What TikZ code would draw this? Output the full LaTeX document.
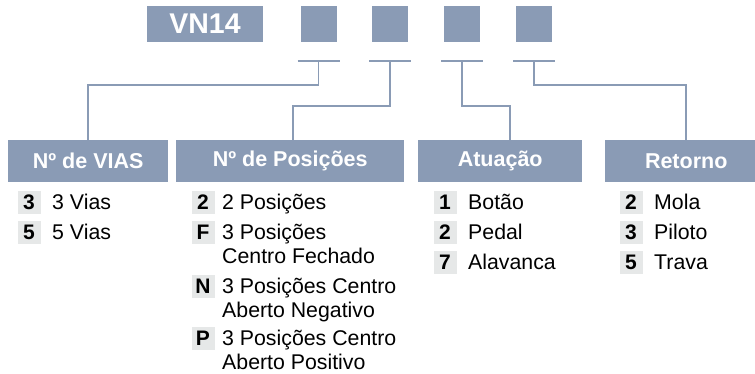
\documentclass[tikz,border=0pt]{standalone}
\usepackage{fontspec}
\setmainfont{Liberation Sans}
\usetikzlibrary{positioning,calc}
\definecolor{azulado}{HTML}{8A9BB5}
\definecolor{cinzaclaro}{HTML}{E6E8E8}

\begin{document}
\begin{tikzpicture}[x=1pt, y=-1pt,
  cabec/.style={fill=azulado, text=white, font=\fontsize{21.5}{24}\selectfont\bfseries,
                minimum height=42pt, inner sep=0pt, anchor=north west},
  quad/.style={fill=azulado, minimum width=36pt, minimum height=36pt, inner sep=0pt},
  selo/.style={fill=cinzaclaro, minimum width=23pt, minimum height=23pt, inner sep=0pt,
               font=\fontsize{21}{24}\selectfont\bfseries},
  item/.style={anchor=base west, inner sep=0pt, align=left,
               font=\fontsize{21.3}{24}\selectfont},
  fio/.style={draw=azulado, line width=1.7pt}]

  \useasboundingbox (0,0) rectangle (755,373);
  \clip (0,0) rectangle (755,373);

  % codigo
  \node[quad, minimum width=116pt, text=white, font=\fontsize{28.5}{30}\selectfont\bfseries] (cod) at (205,24) {VN14};
  \node[quad] (q1) at (318.5,24) {};
  \node[quad] (q2) at (390,24) {};
  \node[quad] (q3) at (462,24) {};
  \node[quad] (q4) at (534,24) {};

  \coordinate (t1) at ($(q1.south)+(0,19)$);
  \coordinate (t2) at ($(q2.south)+(0,19)$);
  \coordinate (t3) at ($(q3.south)+(0,19)$);
  \coordinate (t4) at ($(q4.south)+(0,19)$);

  % cabecalhos
  \node[cabec, minimum width=160pt] (vias) at (8,140) {Nº de VIAS};
  \node[cabec, minimum width=228pt] (pos) at (176,140) {Nº de Posições};
  \node[cabec, minimum width=164pt] (atu) at (418,140) {Atuação};
  \node[cabec, minimum width=162pt] (ret) at (605,140) {Retorno};

  \draw[fio] ([xshift=-21pt]t1) -- ([xshift=21pt]t1);
  \draw[fio] ([xshift=-21pt]t2) -- ([xshift=21pt]t2);
  \draw[fio] ([xshift=-21pt]t3) -- ([xshift=21pt]t3);
  \draw[fio] ([xshift=-21pt]t4) -- ([xshift=21pt]t4);
  \draw[fio] (t1) -- ++(0,24) -| (vias.north);
  \draw[fio] (t2) -- ++(0,45) -| ([xshift=3pt]pos.north);
  \draw[fio] (t3) -- ++(0,45) -| ([xshift=10pt]atu.north);
  \draw[fio] (t4) -- ++(0,24) -| (ret.north);

  % vias
  \node[selo] (v3) at (29,202) {3};
  \node[item] (v3t) at (52,209.5) {3 Vias};
  \node[selo] (v5) at (29,232) {5};
  \node[item] (v5t) at (52,239.5) {5 Vias};

  % posicoes (base = ultima linha)
  \node[selo] (p2) at (203,202) {2};
  \node[item] (p2t) at (222,209.5) {2 Posições};
  \node[selo] (pF) at (203,232) {F};
  \node[item] (pFt) at (222,263.5) {3 Posições\\Centro Fechado};
  \node[selo] (pN) at (203,286) {N};
  \node[item] (pNt) at (222,317.5) {3 Posições Centro\\Aberto Negativo};
  \node[selo] (pP) at (203,338) {P};
  \node[item] (pPt) at (222,369) {3 Posições Centro\\Aberto Positivo};

  % atuacao
  \node[selo] (a1) at (445,202) {1};
  \node[item] (a1t) at (468,209.5) {Botão};
  \node[selo] (a2) at (445,232) {2};
  \node[item] (a2t) at (468,239.5) {Pedal};
  \node[selo] (a7) at (445,262) {7};
  \node[item] (a7t) at (468,269.5) {Alavanca};

  % retorno
  \node[selo] (r2) at (631,202) {2};
  \node[item] (r2t) at (654,209.5) {Mola};
  \node[selo] (r3) at (631,232) {3};
  \node[item] (r3t) at (654,239.5) {Piloto};
  \node[selo] (r5) at (631,262) {5};
  \node[item] (r5t) at (654,269.5) {Trava};
\end{tikzpicture}
\end{document}
